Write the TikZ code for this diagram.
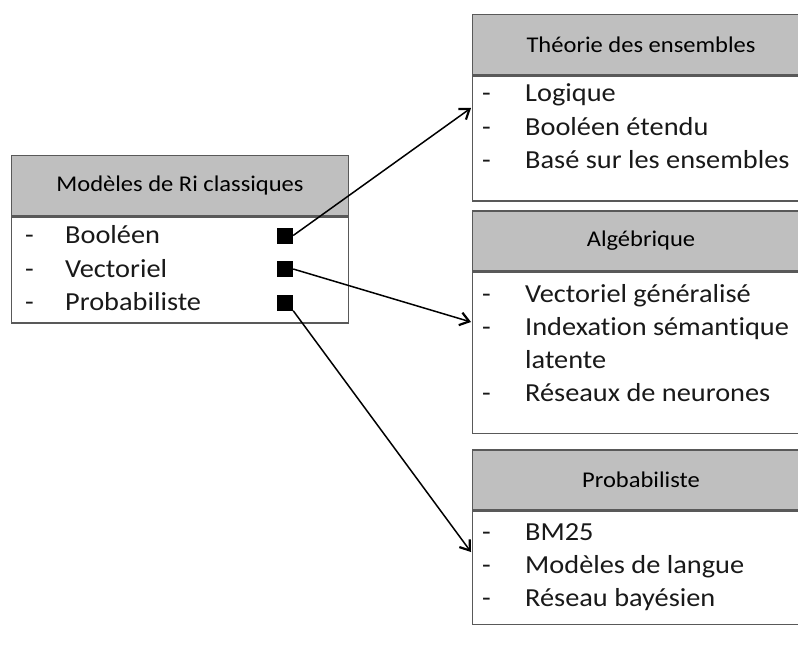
\documentclass[tikz,border=0pt]{standalone}
\usepackage{fontspec}
\setmainfont{Carlito}[FakeStretch=1.09, Ligatures=NoCommon]
\usetikzlibrary{positioning,arrows.meta}

\tikzset{
	head/.style={draw=black!65, line width=1.6pt, fill=gray!50, minimum width=337pt, minimum height=60pt, inner sep=0pt, font=\fontsize{22.5}{24}\selectfont},
	body/.style={draw=black!65, line width=1.6pt, minimum width=337pt, inner sep=0pt, anchor=north},
	wide/.style={minimum width=360pt},
	item/.style={anchor=base west, inner sep=0pt, text=black!90, font=\fontsize{26}{28}\selectfont},
	knob/.style={fill=black, minimum size=16pt, inner sep=0pt},
	link/.style={line width=1.5pt, -{Straight Barb[length=9pt,width=13pt,line width=2.2pt]}}
}

\begin{document}
\begin{tikzpicture}[x=1pt, y=-1pt]
			\useasboundingbox (0,0) rectangle (798,661);

			% boite de gauche
			\node(ri) [head] at (180,185.5) {Modèles de Ri classiques};
			\node(rib) [body, minimum height=106pt, below=0pt of ri] {};
			\foreach \t/\n [count=\i] in {Booléen/bool, Vectoriel/vect, Probabiliste/proba} {
				\node(d\n) [item] at (25,210+33.5*\i) {-};
				\node(\n) [item] at (65,210+33.5*\i) {\t};
				\node(k\n) [knob] at (285,202+33.5*\i) {};
			}

			% theorie des ensembles (coupee a droite)
			\node(thy) [head, wide] at (652.5,44.5) {\hspace*{-23pt}Théorie des ensembles};
			\node(thyb) [body, wide, minimum height=125pt, below=0pt of thy] {};
			\foreach \t [count=\i] in {Logique, Booléen étendu, Basé sur les ensembles} {
				\node(dthy\i) [item] at (482,69+33*\i) {-};
				\node(thy\i) [item] at (525,69+33*\i) {\t};
			}

			% algebrique
			\node(alg) [head, wide] at (652.5,241) {\hspace*{-23pt}Algébrique};
			\node(algb) [body, wide, minimum height=161pt, below=0pt of alg] {};
			\node(dalg1) [item] at (482,302) {-};
			\node(alg1) [item] at (525,302) {Vectoriel généralisé};
			\node(dalg2) [item] at (482,335) {-};
			\node(alg2) [item] at (525,335) {Indexation sémantique};
			\node(alg3) [item] at (525,368) {latente};
			\node(dalg4) [item] at (482,401) {-};
			\node(alg4) [item] at (525,401) {Réseaux de neurones};

			% probabiliste
			\node(prb) [head, wide] at (652.5,480) {\hspace*{-23pt}Probabiliste};
			\node(prbb) [body, wide, minimum height=113pt, below=0pt of prb] {};
			\foreach \t [count=\i] in {BM25, Modèles de langue, Réseau bayésien} {
				\node(dprb\i) [item] at (482,507+33*\i) {-};
				\node(prb\i) [item] at (525,507+33*\i) {\t};
			}

			\coordinate(inthy) at (471,108);
			\coordinate(inalg) at (471,322);
			\coordinate(inprb) at (471,552);

			\draw[link] (kbool.east) -- (inthy);
			\draw[link] (kvect.east) -- (inalg);
			\draw[link] (kproba.south east) -- (inprb);
		\end{tikzpicture}
\end{document}
